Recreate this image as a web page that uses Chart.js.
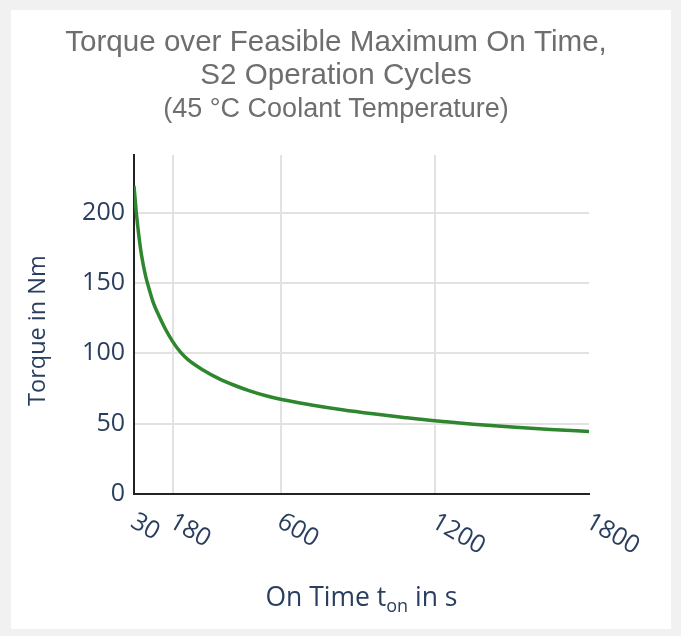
<!DOCTYPE html>
<html>
<head>
<meta charset="utf-8">
<script src="https://cdn.jsdelivr.net/npm/chart.js@4.4.1/dist/chart.umd.min.js"></script>
<style>
  html, body { margin: 0; padding: 0; background: #f1f1f1; }
  #card { position: absolute; left: 11px; top: 10px; width: 660px; height: 619px; background: #fff; }
  canvas { display: block; }
</style>
</head>
<body>
<div id="card"><canvas id="torqueChart" width="660" height="619"></canvas></div>
<script>
// values
const onTime = [30, 40, 50, 60, 75, 90, 105, 120, 150, 180, 210, 240, 300, 360, 420, 480, 540, 600, 720, 840, 960, 1080, 1200, 1350, 1500, 1650, 1800];
const torque = [219, 198, 182, 169, 155, 145, 136, 129.5, 118, 108.5, 101, 95.5, 88, 82, 77.3, 73.3, 70, 67.3, 63.3, 59.9, 57, 54.4, 52, 49.6, 47.6, 45.9, 44.4];
const xTicks = [30, 180, 600, 1200, 1800];
const yTicks = [0, 50, 100, 150, 200];

const tickColor = '#2a3f5f';

// x tick labels are slanted downwards, and the x title has a subscript,
// so both are drawn here from the x scale
const xLabels = {
    id: 'xLabels',
    afterDraw(chart) {
        const ctx = chart.ctx;
        const x = chart.scales.x;
        const area = chart.chartArea;
        ctx.save();
        ctx.fillStyle = tickColor;
        ctx.font = '25px "Open Sans"';
        ctx.textAlign = 'left';
        ctx.textBaseline = 'top';
        xTicks.forEach(v => {
            ctx.save();
            ctx.translate(x.getPixelForValue(v) + 5, area.bottom + 15);
            ctx.rotate(Math.PI / 6);
            ctx.fillText(String(v), 0, 0);
            ctx.restore();
        });

        // "On Time t_on in s"
        const big = '26.5px "Open Sans"';
        const small = '18px "Open Sans"';
        const parts = [['On Time t', big, 0], ['on', small, 6], [' in s', big, 0]];
        let total = 0;
        parts.forEach(p => { ctx.font = p[1]; total += ctx.measureText(p[0]).width; });
        let cx = (area.left + area.right) / 2 - total / 2;
        const base = area.bottom + 112;
        ctx.textBaseline = 'alphabetic';
        parts.forEach(p => {
            ctx.font = p[1];
            ctx.fillText(p[0], cx, base + p[2]);
            cx += ctx.measureText(p[0]).width;
        });
        ctx.restore();
    }
};

new Chart(document.getElementById('torqueChart'), {
    type: 'line',
    data: {
        datasets: [{
            data: onTime.map((t, i) => ({x: t, y: torque[i]})),
            borderColor: '#2e862e',
            borderWidth: 3.5,
            pointRadius: 0,
            cubicInterpolationMode: 'monotone',
            fill: false
        }]
    },
    options: {
        responsive: false,
        animation: false,
        layout: {
            padding: {top: 0, left: 0, right: 10, bottom: 0}
        },
        scales: {
            x: {
                type: 'linear',
                min: 30,
                max: 1800,
                afterBuildTicks: scale => { scale.ticks = xTicks.map(v => ({value: v})); },
                afterFit: scale => { scale.height = 135; },
                ticks: { display: false },
                grid: {
                    drawTicks: false,
                    lineWidth: 2,
                    color: c => (c.tick && (c.tick.value === 30 || c.tick.value === 1800)) ? 'rgba(0,0,0,0)' : '#e2e2e2'
                },
                border: { color: '#222', width: 2 }
            },
            y: {
                min: 0,
                max: 241,
                afterBuildTicks: scale => { scale.ticks = yTicks.map(v => ({value: v})); },
                afterFit: scale => { scale.width = 123; },
                ticks: {
                    color: tickColor,
                    padding: 9,
                    font: { family: 'Open Sans', size: 25 }
                },
                grid: {
                    drawTicks: false,
                    lineWidth: 2,
                    color: '#e2e2e2'
                },
                border: { color: '#222', width: 2 },
                title: {
                    display: true,
                    text: 'Torque in Nm\u00a0\u00a0',
                    color: tickColor,
                    padding: { top: 13, bottom: 0 },
                    font: { family: 'Open Sans', size: 23.5 }
                }
            },
            // empty right axis, only keeps room on the right so the title stays centred on the card
            yRight: {
                position: 'right',
                min: 0,
                max: 241,
                afterFit: scale => { scale.width = 72; },
                ticks: { display: false },
                grid: { display: false, drawTicks: false },
                border: { display: false }
            }
        },
        plugins: {
            legend: { display: false },
            tooltip: { enabled: false },
            title: {
                display: true,
                text: ['Torque over Feasible Maximum On Time,', 'S2 Operation Cycles'],
                color: '#6e6e6e',
                padding: { top: 16, bottom: 0 },
                font: { family: 'Liberation Sans', size: 29.6, weight: 'normal', lineHeight: 1.13 }
            },
            subtitle: {
                display: true,
                text: '(45 °C Coolant Temperature)',
                color: '#6e6e6e',
                padding: { top: 1, bottom: 30 },
                font: { family: 'Liberation Sans', size: 27, weight: 'normal', lineHeight: 1.15 }
            }
        }
    },
    plugins: [xLabels]
});
</script>
</body>
</html>
